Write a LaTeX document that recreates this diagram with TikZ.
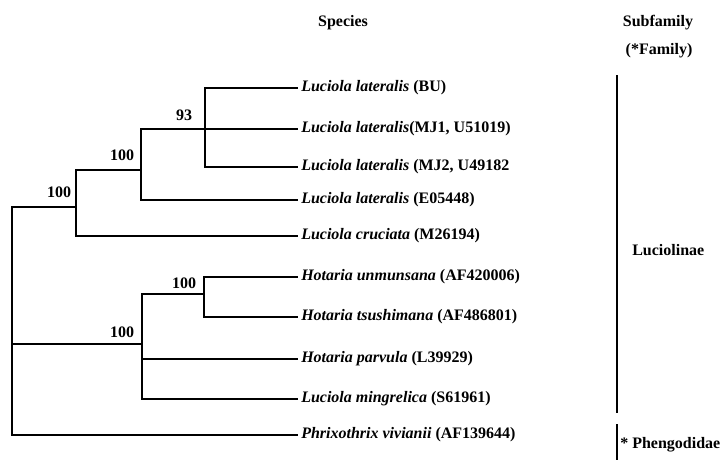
\documentclass[tikz,border=0pt]{standalone}
\usepackage{fontspec}
\setmainfont{Liberation Serif}
\begin{document}
\begin{tikzpicture}[x=0.75pt,y=-0.75pt,
  every node/.style={font=\fontsize{12pt}{14pt}\selectfont\bfseries},
  branch/.style={line width=0.9pt,line cap=rect},
  leaf/.style={anchor=west,inner sep=3pt,text height=0.75em,text depth=0.25em},
  boot/.style={inner sep=0pt},
  head/.style={inner sep=0pt},
  bar/.style={line width=1.6pt}]
\useasboundingbox (0,0) rectangle (724,461);
% headers
\node[head] (hspecies) at (343,23) {Species};
\node[head] (hsub) at (658,23) {Subfamily};
\node[head] (hfam) at (659,51) {(*Family)};
% leaves
\node[leaf] (BU)   at (297,88)  {\textit{Luciola lateralis} (BU)};
\node[leaf] (MJ1)  at (297,129) {\textit{Luciola lateralis}(MJ1, U51019)};
\node[leaf] (MJ2)  at (297,167) {\textit{Luciola lateralis} (MJ2, U49182};
\node[leaf] (E05)  at (297,200) {\textit{Luciola lateralis} (E05448)};
\node[leaf] (M26)  at (297,236) {\textit{Luciola cruciata} (M26194)};
\node[leaf] (AF42) at (297,277) {\textit{Hotaria unmunsana} (AF420006)};
\node[leaf] (AF48) at (297,317) {\textit{Hotaria tsushimana} (AF486801)};
\node[leaf] (L39)  at (297,359) {\textit{Hotaria parvula} (L39929)};
\node[leaf] (S61)  at (297,399) {\textit{Luciola mingrelica} (S61961)};
\node[leaf] (AF13) at (297,435) {\textit{Phrixothrix vivianii} (AF139644)};
% internal nodes
\coordinate (nA) at (205,129);
\coordinate (nB) at (141,170);
\coordinate (nC) at (76,207);
\coordinate (nD) at (204,294);
\coordinate (nE) at (142,344);
\coordinate (nR) at (12,207);
% branches
\draw[branch] (nA) |- (BU.west);
\draw[branch] (nA) |- (MJ2.west);
\draw[branch] (nA) -- (MJ1.west);
\draw[branch] (nB) |- (nA);
\draw[branch] (nB) |- (E05.west);
\draw[branch] (nC) |- (nB);
\draw[branch] (nC) |- (M26.west);
\draw[branch] (nR) -- (nC);
\draw[branch] (nD) |- (AF42.west);
\draw[branch] (nD) |- (AF48.west);
\draw[branch] (nE) |- (nD);
\draw[branch] (nE) |- (L39.west);
\draw[branch] (nE) |- (S61.west);
\draw[branch] (nR) |- (nE);
\draw[branch] (nR) |- (AF13.west);
% bootstrap values
\node[boot] (bA) at (184,115) {93};
\node[boot] (bB) at (122,155) {100};
\node[boot] (bC) at (59,192) {100};
\node[boot] (bD) at (184,283) {100};
\node[boot] (bE) at (122,332) {100};
% subfamily bars
\coordinate (lucTop) at (617,75);
\coordinate (lucBot) at (617,413);
\coordinate (phTop) at (617,424);
\coordinate (phBot) at (617,460);
\draw[bar] (lucTop) -- (lucBot);
\draw[bar] (phTop) -- (phBot);
\node[head,anchor=west] (luc) at (632,250) {Luciolinae};
\node[head,anchor=west] (phe) at (620,445) {* Phengodidae};
\end{tikzpicture}
\end{document}
